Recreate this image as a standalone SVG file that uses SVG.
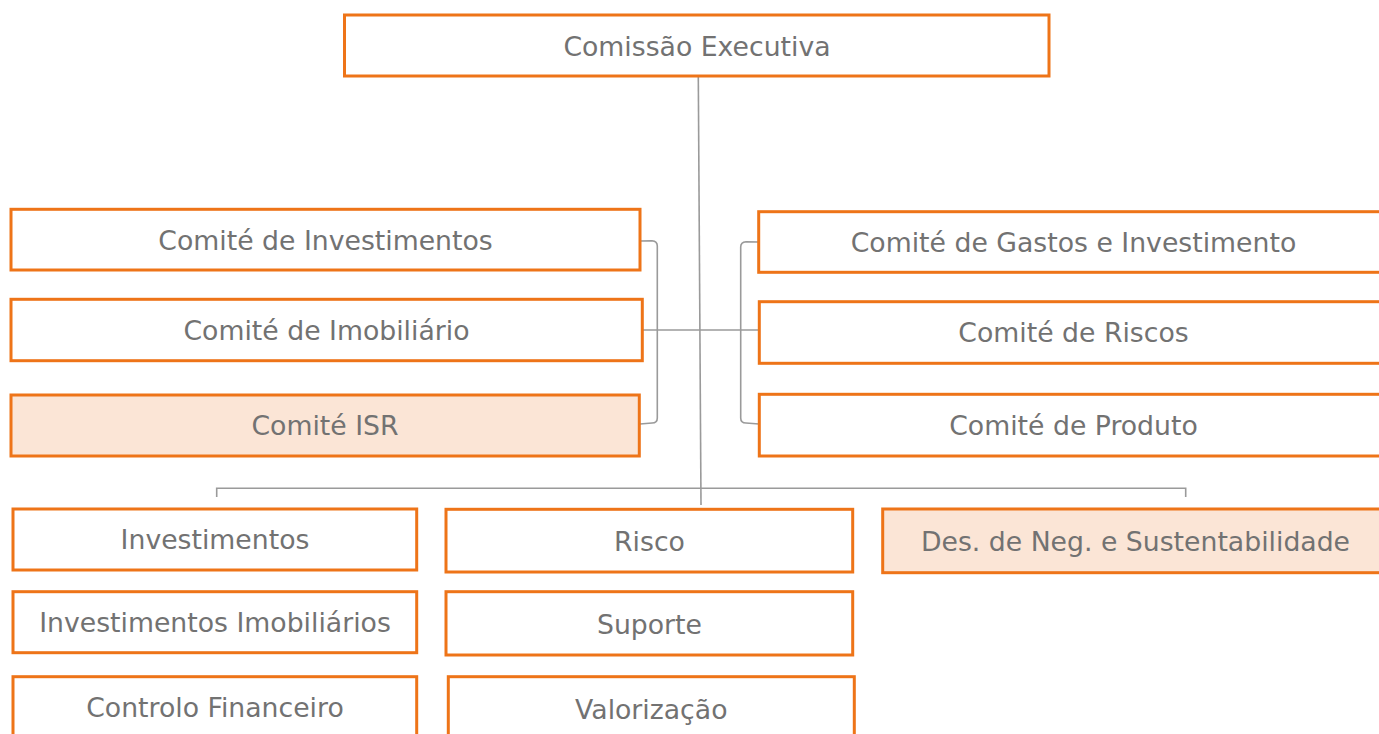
<svg xmlns="http://www.w3.org/2000/svg" width="1379" height="734" viewBox="0 0 1379 734">
<style>
.box{fill:#ffffff;stroke:#EE7418;stroke-width:3}
.hl{fill:#FBE5D6;stroke:#EE7418;stroke-width:3}
.lbl{font-family:"DejaVu Sans",Verdana,sans-serif;font-size:26.7px;fill:#727272;text-anchor:middle}
.con{fill:none;stroke:#9a9a9a;stroke-width:1.6}
</style>
<rect width="1379" height="734" fill="#ffffff"/>
<g id="connectors">
<path class="con" d="M698.3,76 L701,505"/>
<path class="con" d="M640,241 L652,240.7 Q657.3,241 657.3,246 L657.3,418 Q657.3,423 652,423 L640,424"/>
<path class="con" d="M759,242 L746,241.7 Q740.7,242 740.7,247 L740.7,418 Q740.7,423 746,423 L759,424"/>
<path class="con" d="M642.5,330 L759,330"/>
<path class="con" d="M216.7,497 L216.7,488.3 L1185.7,488.3 L1185.7,497"/>
</g>
<g id="n-comissao"><rect class="box" x="344.5" y="15" width="704.5" height="61"/><text class="lbl" x="697" y="55.5">Comissão Executiva</text></g>
<g id="n-c-investimentos"><rect class="box" x="11" y="209.3" width="629" height="60.7"/><text class="lbl" x="325.5" y="249.5">Comité de Investimentos</text></g>
<g id="n-c-imobiliario"><rect class="box" x="11" y="299.3" width="631.3" height="61.4"/><text class="lbl" x="326.5" y="339.5">Comité de Imobiliário</text></g>
<g id="n-c-isr"><rect class="hl" x="11" y="395" width="628.3" height="61"/><text class="lbl" x="325" y="435">Comité ISR</text></g>
<g id="n-c-gastos"><rect class="box" x="758.7" y="211.7" width="630" height="60.6"/><text class="lbl" x="1073.5" y="251.5">Comité de Gastos e Investimento</text></g>
<g id="n-c-riscos"><rect class="box" x="759.3" y="301.7" width="630" height="61.6"/><text class="lbl" x="1073.5" y="342">Comité de Riscos</text></g>
<g id="n-c-produto"><rect class="box" x="759.3" y="394.3" width="630" height="61.7"/><text class="lbl" x="1073.5" y="435">Comité de Produto</text></g>
<g id="n-investimentos"><rect class="box" x="13" y="509" width="403.7" height="61"/><text class="lbl" x="215" y="549">Investimentos</text></g>
<g id="n-risco"><rect class="box" x="446" y="509.3" width="406.7" height="62.7"/><text class="lbl" x="649.5" y="551">Risco</text></g>
<g id="n-des"><rect class="hl" x="882.7" y="509" width="506" height="63.7"/><text class="lbl" x="1135.5" y="551">Des. de Neg. e Sustentabilidade</text></g>
<g id="n-inv-imob"><rect class="box" x="13" y="591.7" width="403.7" height="61"/><text class="lbl" x="215" y="632">Investimentos Imobiliários</text></g>
<g id="n-suporte"><rect class="box" x="446" y="591.7" width="406.7" height="63.3"/><text class="lbl" x="649.5" y="633.5">Suporte</text></g>
<g id="n-controlo"><rect class="box" x="13" y="676.7" width="403.7" height="70"/><text class="lbl" x="215" y="717">Controlo Financeiro</text></g>
<g id="n-valorizacao"><rect class="box" x="448.3" y="676.7" width="406" height="70"/><text class="lbl" x="651.3" y="719">Valorização</text></g>
</svg>
